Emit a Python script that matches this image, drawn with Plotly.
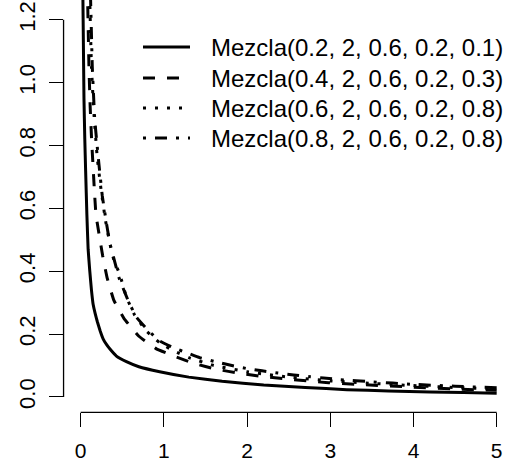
import plotly.graph_objects as go

# ---- data ----
x_s1 = [0.022, 0.03, 0.04, 0.05, 0.06, 0.075, 0.09, 0.11, 0.13, 0.15, 0.175, 0.2, 0.235, 0.27,
        0.31, 0.35, 0.43, 0.55, 0.7, 0.95, 1.3, 1.7, 2.2, 2.7, 3.2, 3.7, 4.2, 4.6, 5.0]
y_s1 = [1.40, 1.20, 0.95, 0.82, 0.72, 0.58, 0.47, 0.40, 0.34, 0.295, 0.265, 0.24, 0.21, 0.185,
        0.167, 0.153, 0.13, 0.112, 0.096, 0.08, 0.063, 0.05, 0.038, 0.03, 0.023, 0.019, 0.016,
        0.014, 0.012]

x_s2 = [0.08, 0.1, 0.115, 0.132, 0.163, 0.184, 0.22, 0.264, 0.32, 0.40, 0.52, 0.70, 0.91, 1.15,
        1.37, 1.63, 1.92, 2.19, 2.48, 2.72, 2.98, 3.3, 4.0, 4.5, 5.0]
y_s2 = [1.32, 1.05, 0.92, 0.817, 0.668, 0.58, 0.52, 0.45, 0.377, 0.307, 0.25, 0.193, 0.153, 0.127,
        0.106, 0.088, 0.075, 0.065, 0.057, 0.051, 0.045, 0.04, 0.031, 0.025, 0.021]

x_s3 = [0.105, 0.11, 0.13, 0.16, 0.2, 0.25, 0.3, 0.35, 0.4, 0.47, 0.55, 0.65, 0.79, 0.95, 1.13,
        1.3, 1.6, 2.0, 2.5, 3.0, 3.5, 4.0, 4.5, 5.0]
y_s3 = [1.32, 1.26, 1.05, 0.9, 0.76, 0.65, 0.56, 0.49, 0.435, 0.39, 0.318, 0.26, 0.21, 0.172,
        0.145, 0.125, 0.1, 0.08, 0.063, 0.051, 0.043, 0.036, 0.03, 0.025]

x_s4 = [0.115, 0.12, 0.14, 0.17, 0.22, 0.26, 0.30, 0.35, 0.41, 0.46, 0.57, 0.67, 0.81, 0.95, 1.13,
        1.29, 1.43, 1.65, 1.83, 2.0, 2.18, 2.37, 2.56, 2.76, 2.92, 3.12, 3.5, 4.0, 4.5, 5.0]
y_s4 = [1.32, 1.26, 1.05, 0.88, 0.74, 0.64, 0.57, 0.49, 0.43, 0.38, 0.307, 0.254, 0.212, 0.178,
        0.155, 0.139, 0.125, 0.11, 0.099, 0.09, 0.083, 0.076, 0.07, 0.064, 0.06, 0.055, 0.048,
        0.04, 0.034, 0.029]

labels = ["Mezcla(0.2, 2, 0.6, 0.2, 0.1)", "Mezcla(0.4, 2, 0.6, 0.2, 0.3)",
          "Mezcla(0.6, 2, 0.6, 0.2, 0.8)", "Mezcla(0.8, 2, 0.6, 0.2, 0.8)"]
x_ticks = [0, 1, 2, 3, 4, 5]
y_ticks = [0.0, 0.2, 0.4, 0.6, 0.8, 1.0, 1.2]

# ---- styling ----
FONT = "Liberation Sans, Arial, Helvetica, sans-serif"
dashes = ["solid", "12px,12px", "3px,9px", "3px,9px,12px,9px"]
LW = 3

series = [(x_s1, y_s1), (x_s2, y_s2), (x_s3, y_s3), (x_s4, y_s4)]

fig = go.Figure()
for (xs, ys), d, lab in zip(series, dashes, labels):
    fig.add_trace(go.Scatter(x=xs, y=ys, mode="lines", name=lab,
                             line=dict(color="black", width=LW, dash=d, shape="spline",
                                       smoothing=0.3),
                             showlegend=False))

W, H = 506, 465
ml, mr, mt, mb = 64, 0, 0, 53
pw, ph = W - ml - mr, H - mt - mb

def px2paper_x(px):
    return (px - ml) / pw

def px2paper_y(py):
    return 1 - (py - mt) / ph

shapes = [
    dict(type="line", xref="x", yref="paper", x0=x_ticks[0], x1=x_ticks[-1],
         y0=-0.001, y1=-0.001, line=dict(color="black", width=1.3)),
    dict(type="line", xref="paper", yref="y", x0=-0.001, x1=-0.001,
         y0=y_ticks[0], y1=y_ticks[-1], line=dict(color="black", width=1.3)),
]
annotations = []
rows_py = [47, 78, 108, 138]
for py, d, lab in zip(rows_py, dashes, labels):
    shapes.append(dict(type="line", xref="paper", yref="paper",
                       x0=px2paper_x(143), x1=px2paper_x(190),
                       y0=px2paper_y(py), y1=px2paper_y(py),
                       line=dict(color="black", width=LW, dash=d)))
    annotations.append(dict(xref="paper", yref="paper", x=px2paper_x(209), y=px2paper_y(py),
                            xanchor="left", yanchor="middle", text=lab, showarrow=False,
                            font=dict(family=FONT, size=24, color="black")))

fig.update_layout(
    width=W, height=H,
    margin=dict(l=ml, r=mr, t=mt, b=mb, pad=0, autoexpand=False),
    paper_bgcolor="white", plot_bgcolor="white",
    showlegend=False,
    shapes=shapes, annotations=annotations,
    xaxis=dict(range=[-0.2, 5.112], tickvals=x_ticks, ticktext=[str(v) for v in x_ticks],
               showgrid=False, zeroline=False, showline=False, automargin=False,
               ticks="outside", ticklen=14, tickwidth=1.3, tickcolor="black",
               tickfont=dict(family=FONT, size=21, color="black"),
               ticklabelstandoff=6),
    yaxis=dict(range=[-0.048, 1.263], tickvals=y_ticks,
               ticktext=[f"{v:.1f}" for v in y_ticks],
               showgrid=False, zeroline=False, showline=False, automargin=False,
               ticks="outside", ticklen=14, tickwidth=1.3, tickcolor="black",
               tickangle=-90,
               tickfont=dict(family=FONT, size=22, color="black"),
               ticklabelstandoff=5),
)

fig.write_html("out.html")
